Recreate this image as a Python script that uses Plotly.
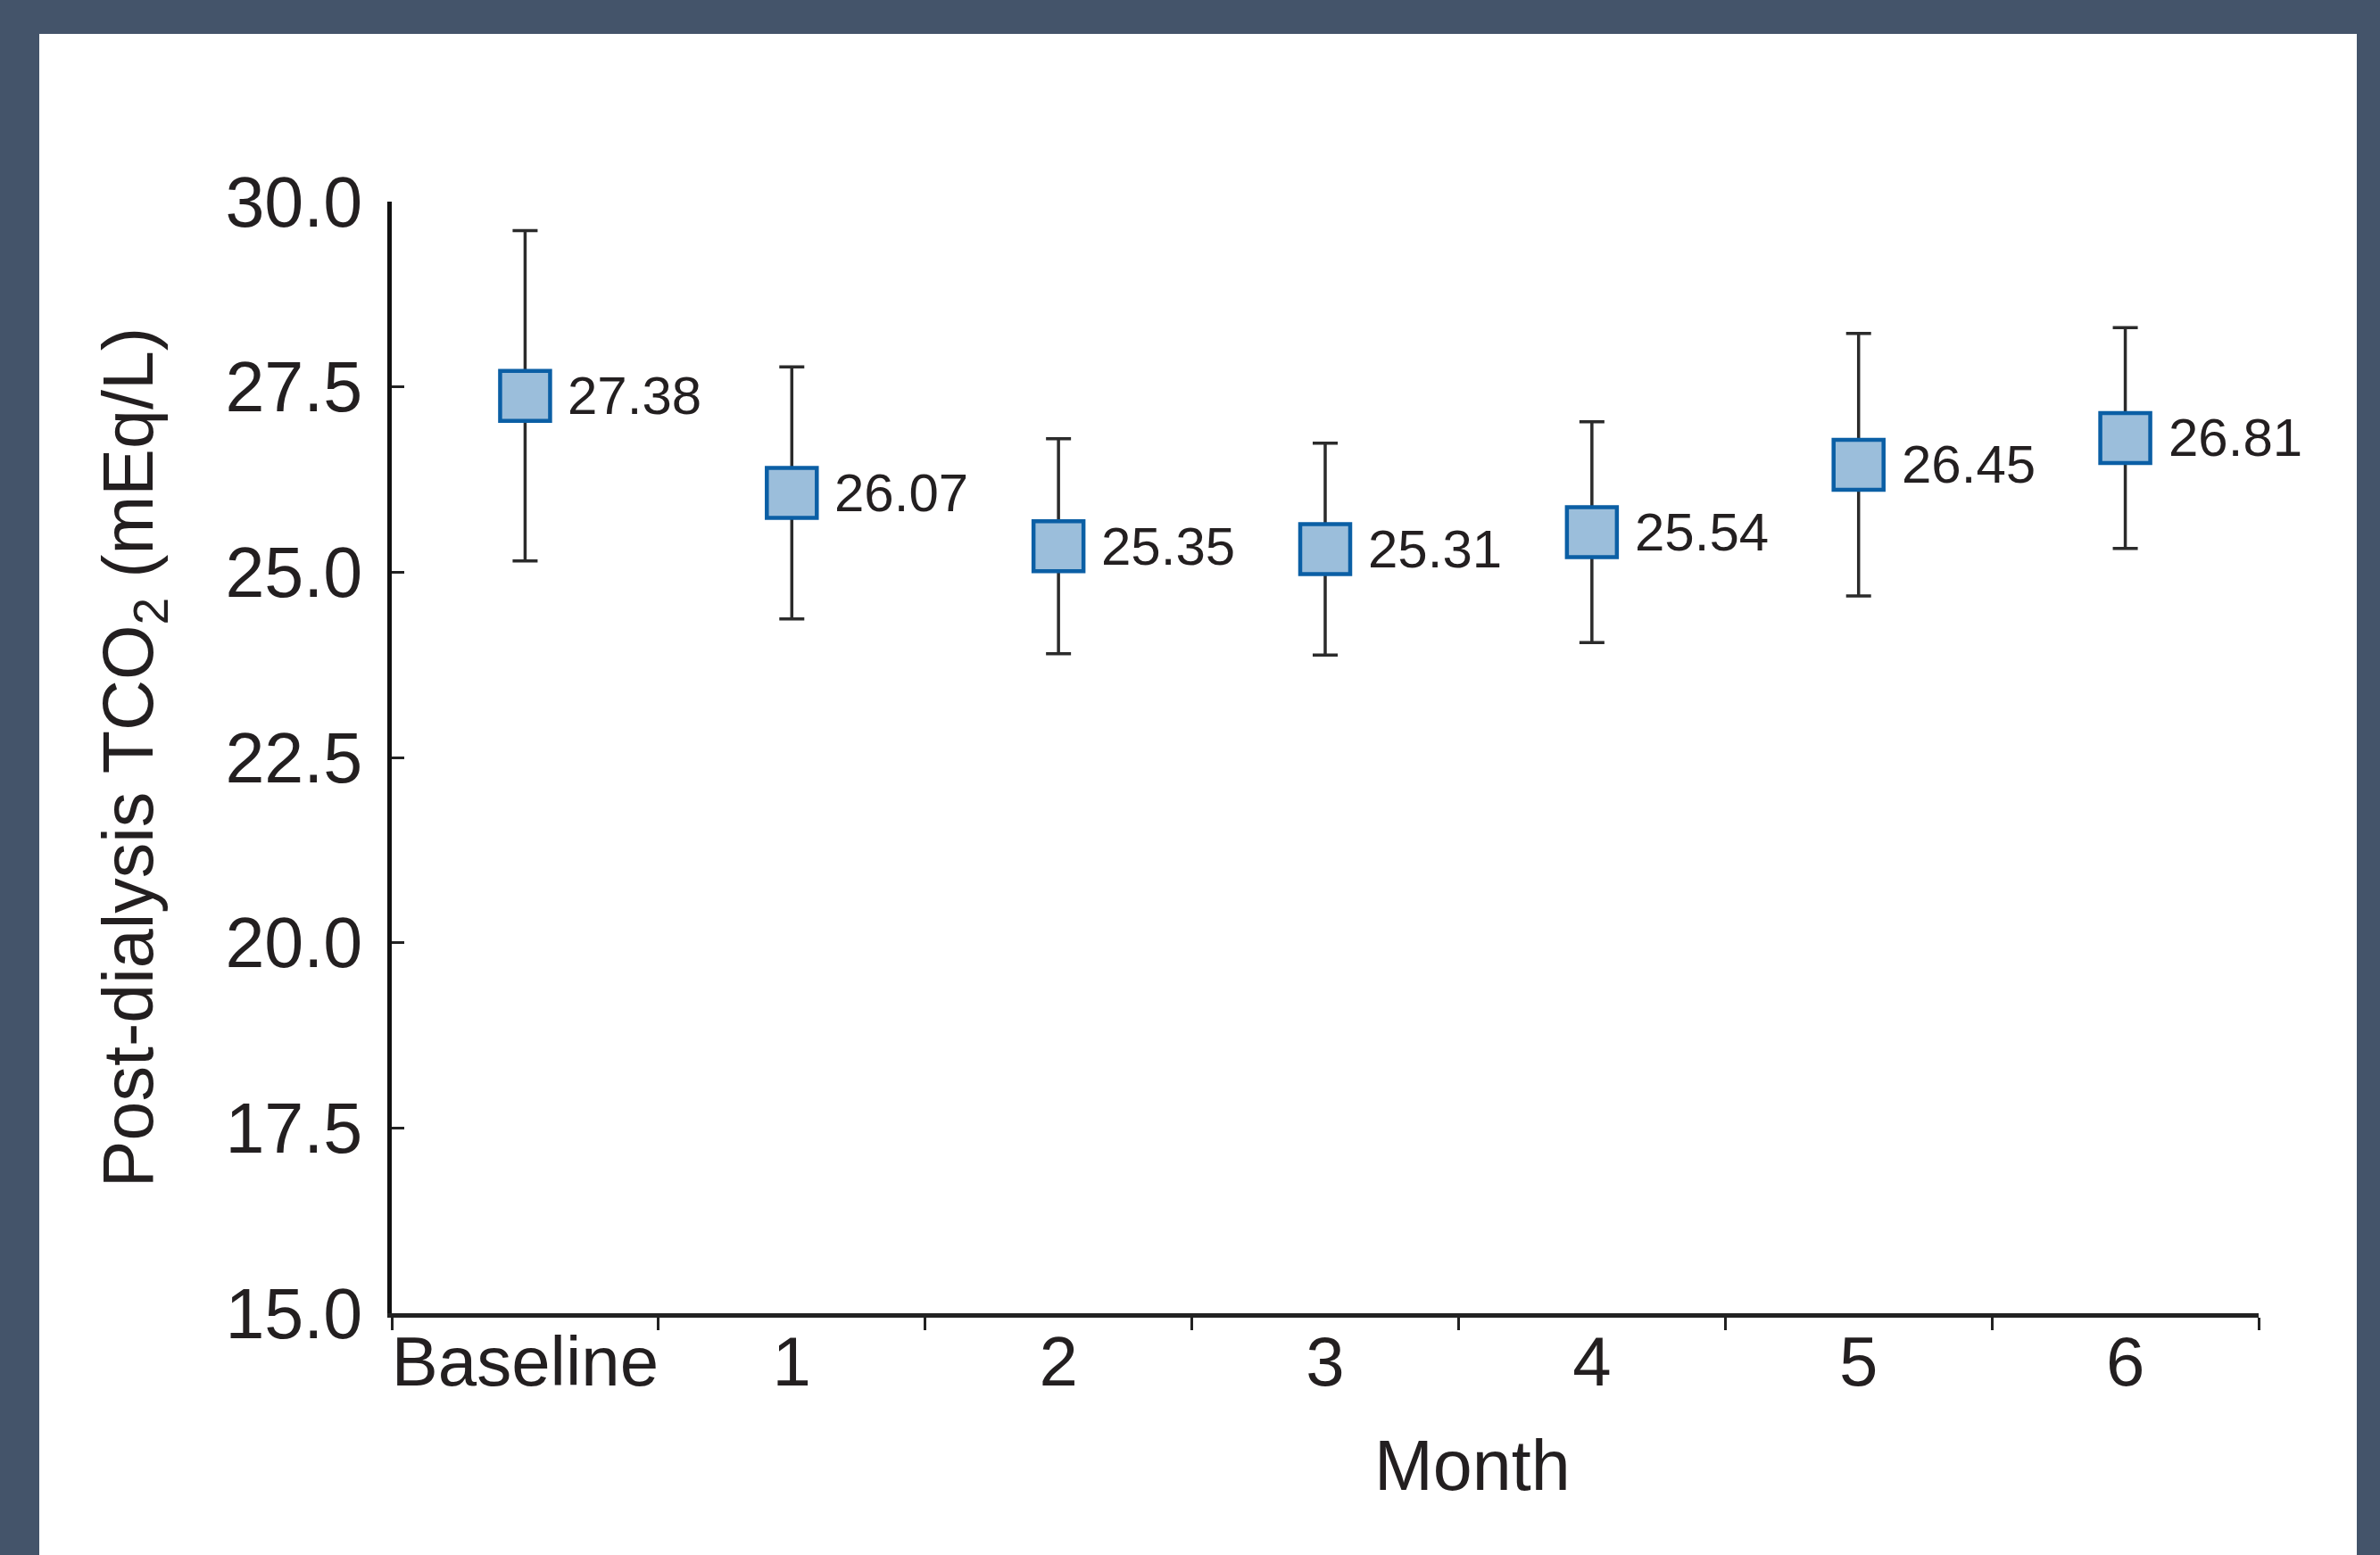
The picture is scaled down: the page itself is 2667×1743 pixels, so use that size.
import plotly.graph_objects as go

# ---- data ----
months = ["Baseline", "1", "2", "3", "4", "5", "6"]
tco2_mean = [27.38, 26.07, 25.35, 25.31, 25.54, 26.45, 26.81]
tco2_sd = [2.23, 1.70, 1.45, 1.43, 1.49, 1.77, 1.49]
mean_labels = ["27.38", "26.07", "25.35", "25.31", "25.54", "26.45", "26.81"]
y_ticks = [15.0, 17.5, 20.0, 22.5, 25.0, 27.5, 30.0]

W, H = 2667, 1743
L, R, T, B = 439, 136, 226, 271
FONT = "Liberation Sans, Arial, Helvetica, sans-serif"
TXT = "#231F20"
FRAME = "#44546A"

fig = go.Figure()
fig.add_trace(go.Scatter(
    x=months, y=tco2_mean, mode="markers",
    marker=dict(symbol="square", size=56, color="#9BBEDB",
                line=dict(color="#0B5FA5", width=4.5)),
    error_y=dict(type="data", array=tco2_sd, visible=True,
                 color="#2b2b2b", thickness=3.5, width=14),
    showlegend=False, hoverinfo="x+y",
))

annotations = []
for m, v, t in zip(months, tco2_mean, mean_labels):
    annotations.append(dict(x=m, y=v, xref="x", yref="y", text=t,
                            showarrow=False, xanchor="left", yanchor="middle",
                            xshift=46, font=dict(family=FONT, size=60, color=TXT)))

pw = W - L - R
ph = H - T - B
# x-axis title "Month" (offset to the right, as in the original)
annotations.append(dict(x=(1650 - L) / pw, y=(1472 - 1642) / ph, xref="paper", yref="paper",
                        text="Month", showarrow=False, xanchor="center", yanchor="middle",
                        font=dict(family=FONT, size=79, color=TXT)))

# white panel inside dark frame
shapes = [dict(type="rect", xref="paper", yref="paper", layer="below",
               x0=(44 - L) / pw, x1=(2641 - L) / pw,
               y0=(1472 - 1760) / ph, y1=(1472 - 38) / ph,
               fillcolor="white", line=dict(width=0))]

fig.update_layout(
    width=W, height=H,
    margin=dict(l=L, r=R, t=T, b=B, pad=0),
    paper_bgcolor=FRAME, plot_bgcolor="rgba(0,0,0,0)",
    font=dict(family=FONT, color=TXT),
    annotations=annotations, shapes=shapes,
    xaxis=dict(type="category", categoryorder="array", categoryarray=months,
               range=[-0.5, 6.5], tickson="boundaries", tickangle=0,
               ticks="outside", ticklen=14, tickwidth=3, tickcolor="#222222",
               showline=True, linewidth=5, linecolor="#222222",
               showgrid=False, zeroline=False, ticklabelstandoff=-18,
               tickfont=dict(family=FONT, size=78, color=TXT)),
    yaxis=dict(range=[15, 30], tickvals=y_ticks, tickformat=".1f",
               ticks="inside", ticklen=14, tickwidth=3, tickcolor="#222222",
               showline=True, linewidth=5, linecolor="#111111",
               showgrid=False, zeroline=False, ticklabelstandoff=12,
               tickfont=dict(family=FONT, size=79, color=TXT),
               title=dict(text="Post-dialysis TCO<sub>2</sub> (mEq/L)",
                          font=dict(family=FONT, size=79, color=TXT), standoff=56)),
)

fig.write_html("out.html", config={"displayModeBar": False},
               post_script="document.body.style.margin='0';document.body.style.overflow='hidden';")
